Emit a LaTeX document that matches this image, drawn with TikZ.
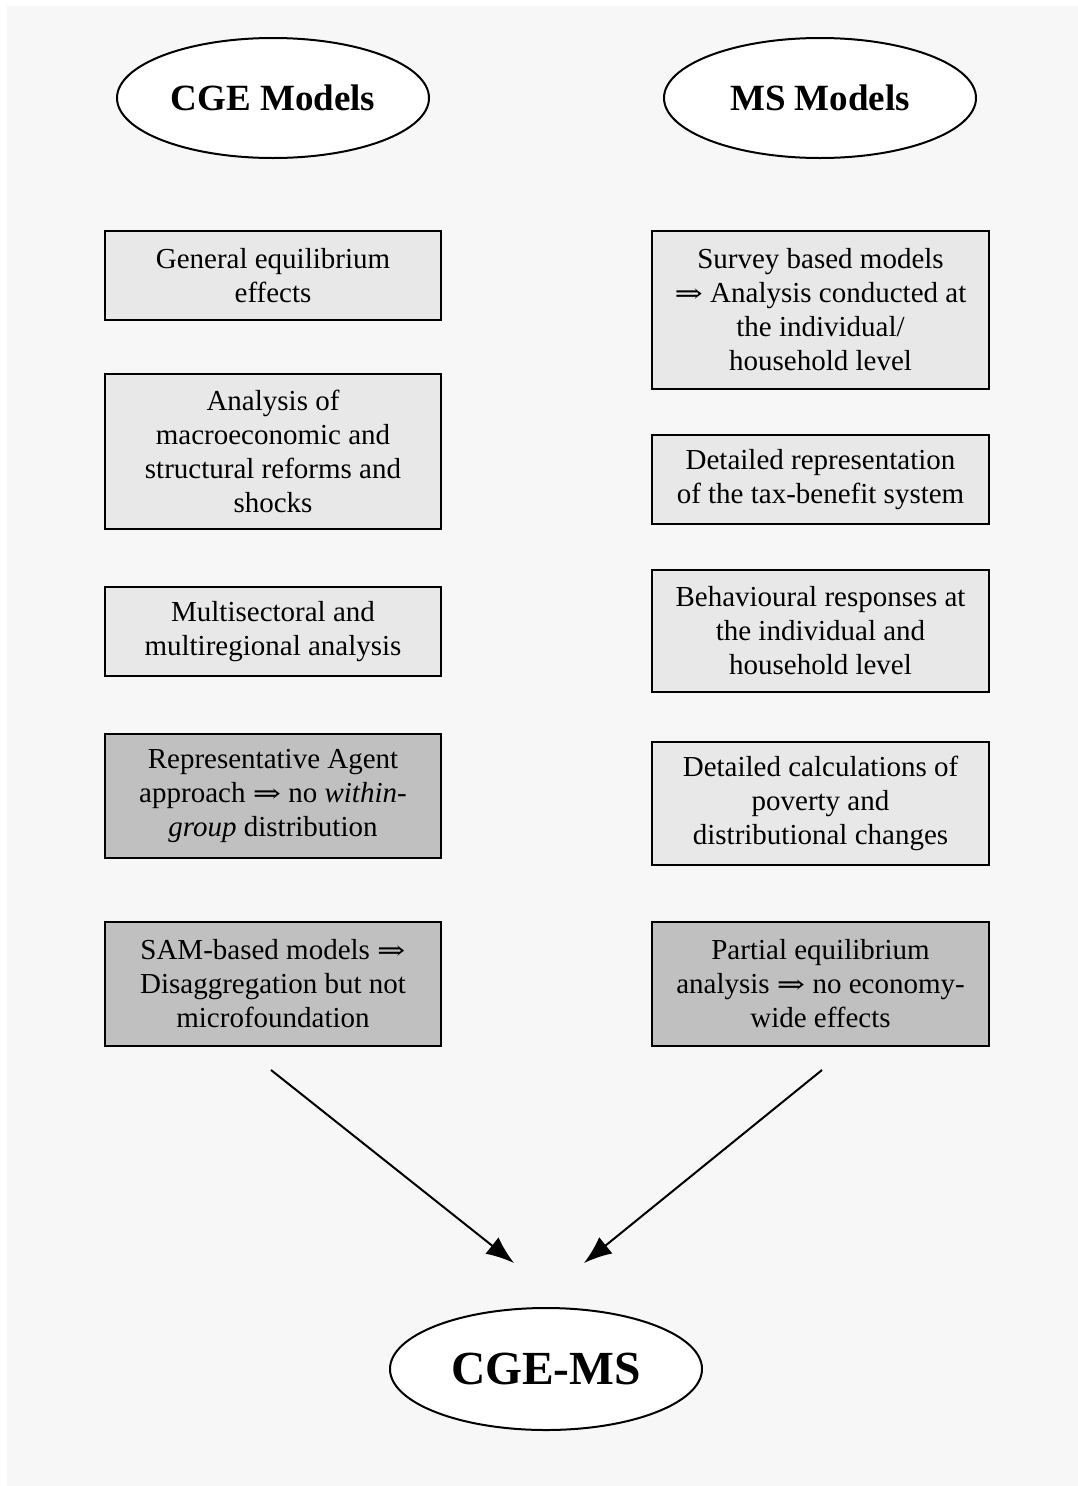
\documentclass[tikz,border=0pt]{standalone}
\usepackage{fontspec}
\usepackage{graphicx}
\setmainfont{Liberation Serif}
\newfontfamily\arrowfont{DejaVu Serif}
\newcommand{\impl}{{\arrowfont\fontsize{26}{34}\selectfont\scalebox{1.3}[1]{⇒}}}
\usetikzlibrary{shapes.geometric,arrows.meta}
\definecolor{bggray}{RGB}{247,247,247}
\definecolor{lightbox}{RGB}{232,232,232}
\definecolor{darkbox}{RGB}{192,192,192}
\tikzset{
  oval/.style={ellipse,draw=black,line width=2pt,fill=white,minimum width=312pt,minimum height=120pt,inner sep=0pt,font=\fontsize{37}{42}\selectfont\bfseries},
  bigoval/.style={oval,minimum height=122pt,font=\fontsize{47.5}{52}\selectfont\bfseries},
  lbox/.style={rectangle,draw=black,line width=1.6pt,fill=lightbox,minimum width=336pt,inner sep=0pt,align=center,font=\fontsize{29}{34}\selectfont,execute at begin node={\rule{0pt}{30pt}}},
  dbox/.style={lbox,fill=darkbox},
  conn/.style={line width=2pt,-{Latex[length=28pt,width=21pt]}}
}
\begin{document}
\begin{tikzpicture}[x=1pt,y=-1pt]
\useasboundingbox (0,0) rectangle (1078,1486);
\fill[white] (0,0) rectangle (1078,1486);
\fill[bggray] (7,6) rectangle (1078,1486);
\node[oval] (cge) at (273,98) {CGE Models};
\node[oval] (ms) at (820,98) {MS Models};
\node[bigoval] (cgems) at (546,1369) {CGE-MS};
% left column
\node[lbox,minimum height=89pt] (l1) at (273,275.5) {General equilibrium\\effects};
\node[lbox,minimum height=155pt] (l2) at (273,451.5) {Analysis of\\macroeconomic and\\structural reforms and\\shocks};
\node[lbox,minimum height=89pt] (l3) at (273,631.5) {Multisectoral and\\multiregional analysis};
\node[dbox,minimum height=124pt] (l4) at (273,796) {Representative Agent\\approach \impl{} no \textit{within-}\\\textit{group} distribution};
\node[dbox,minimum height=124pt] (l5) at (273,984) {SAM-based models \impl\\Disaggregation but not\\microfoundation};
% right column
\node[lbox,minimum height=158pt,minimum width=337pt] (r1) at (820.5,310) {Survey based models\\\impl{} Analysis conducted at\\the individual/\\household level};
\node[lbox,minimum height=89pt,minimum width=337pt] (r2) at (820.5,479.5) {Detailed representation\\of the tax-benefit system};
\node[lbox,minimum height=122pt,minimum width=337pt] (r3) at (820.5,631) {Behavioural responses at\\the individual and\\household level};
\node[lbox,minimum height=123pt,minimum width=337pt] (r4) at (820.5,803.5) {Detailed calculations of\\poverty and\\distributional changes};
\node[dbox,minimum height=124pt,minimum width=337pt] (r5) at (820.5,984) {Partial equilibrium\\analysis \impl{} no economy-\\wide effects};
% connectors
\coordinate (la) at (271,1070);
\coordinate (lb) at (514,1263);
\coordinate (ra) at (822,1070);
\coordinate (rb) at (584,1263);
\draw[conn] (la) -- (lb);
\draw[conn] (ra) -- (rb);
\end{tikzpicture}
\end{document}
